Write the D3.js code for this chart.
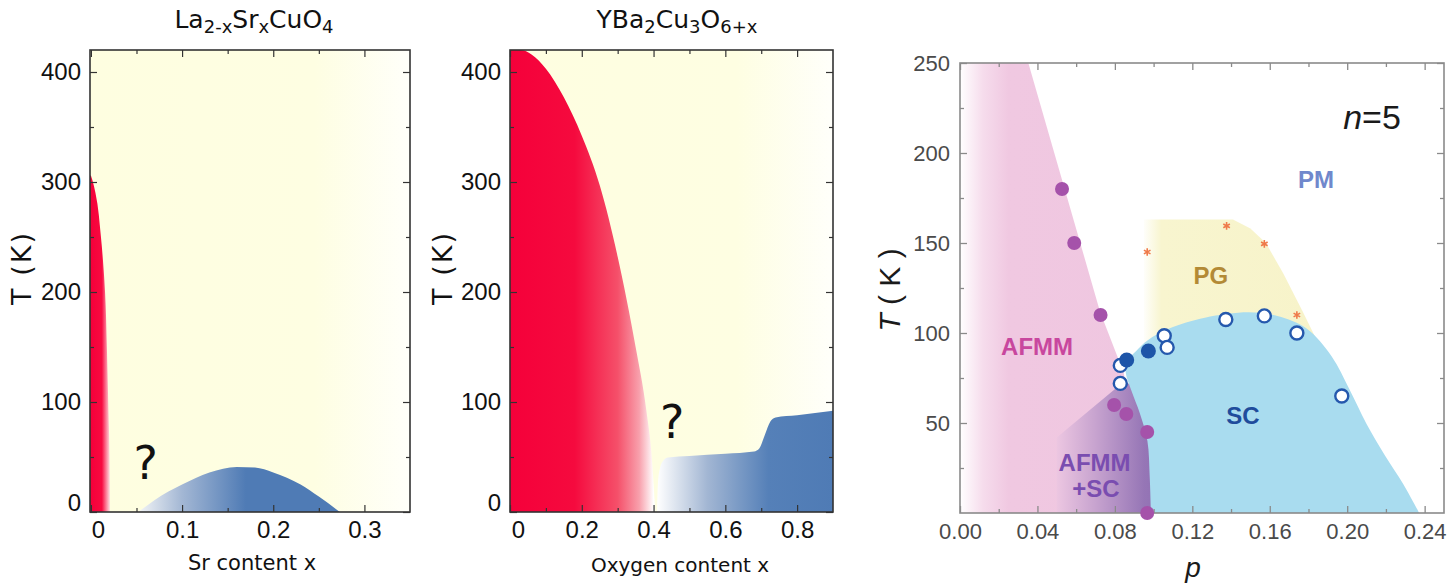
<!DOCTYPE html>
<html>
<head>
<meta charset="utf-8">
<title>Cuprate phase diagrams</title>
<style>
  body { margin: 0; background: #fff; }
  svg text { font-family: "Liberation Sans", Arial, sans-serif; }
</style>
</head>
<body>
<script src="https://d3js.org/d3.v7.min.js"></script>
<script>
// ---- La2-xSrxCuO4 : [x, T(K)]
const lscoAfm = [[0.021,0],[0.0205,50],[0.019,100],[0.0175,150],[0.0155,200],[0.014,220],[0.011,250],[0.005,290],[0.0015,302],[0,306]];
const lscoSc = [[0.052,0],[0.07,11],[0.1,25],[0.13,36],[0.16,41],[0.18,40.5],[0.2,36],[0.23,25],[0.25,14],[0.273,0]];
const lscoXTicks = [0, 0.1, 0.2, 0.3];
const lscoXMinor = [0.05, 0.15, 0.25];

// ---- YBa2Cu3O6+x : [x, T(K)]
const ybcoAfm = [[0,420],[0.03,420],[0.06,416],[0.1,403],[0.15,377],[0.2,342],[0.25,297],[0.3,232],[0.35,150],[0.38,92],[0.395,50],[0.405,0]];
const ybcoSc = [[0.41,0],[0.412,25],[0.418,40],[0.428,47],[0.44,49.5],[0.5,51],[0.6,53],[0.68,55],[0.695,58],[0.71,70],[0.725,82],[0.74,86],[0.8,88],[0.9,92]];
const ybcoXTicks = [0, 0.2, 0.4, 0.6, 0.8];
const ybcoXMinor = [0.1, 0.3, 0.5, 0.7];

const tTicks = [0, 100, 200, 300, 400];
const tMinor = [50, 150, 250, 350];

// ---- n=5 multilayer : [p, T(K)]
const afmmEdge = [[0,0],[0,250],[0.0353,250],[0.0723,112],[0.0845,78],[0.1,0]];
const afmmScEdge = [[0.05,0],[0.05,42],[0.0835,72],[0.1,72],[0.1,0]];
const pgEdge = [[0.095,85],[0.095,163],[0.141,163],[0.150,158],[0.158,150],[0.167,133],[0.177,112],[0.187,90],[0.187,85]];
const scEdge = [[0.0986,0],[0.098,20],[0.0968,40],[0.093,55],[0.0885,68],[0.0856,78],[0.0862,84],[0.091,90],[0.097,96],[0.108,102.5],[0.1265,108.5],[0.149,111.5],[0.164,109.5],[0.179,102.5],[0.192,87],[0.201,69],[0.210,49.5],[0.2195,32],[0.229,16],[0.2372,0]];
const tnPts = [[0.0527,180],[0.059,150],[0.0726,110],[0.0796,60],[0.0859,55],[0.0967,45],[0.0967,0]];
const tcOpen = [[0.0828,82],[0.0828,72],[0.1055,98.5],[0.107,92],[0.1373,107.5],[0.1572,109.5],[0.174,100],[0.1972,65]];
const tcFilled = [[0.0861,85],[0.0973,90]];
const tStar = [[0.0967,145],[0.1377,159.5],[0.1572,149.5],[0.174,110]];
const pTicks = [0, 0.04, 0.08, 0.12, 0.16, 0.20, 0.24];
const pMinor = [0.02, 0.06, 0.10, 0.14, 0.18, 0.22];
const t3Ticks = [50, 100, 150, 200, 250];
const t3Minor = [25, 75, 125, 175, 225];
const phaseLabels = [
  {text: "PM", p: 0.1839, t: 185.6, color: "#7088cc"},
  {text: "PG", p: 0.1296, t: 132, color: "#b38a35"},
  {text: "AFMM", p: 0.0398, t: 92.8, color: "#c8479e"},
  {text: "SC", p: 0.1462, t: 54.4, color: "#1f4c9c"},
  {text: "AFMM", p: 0.0695, t: 28.3, color: "#7a4db0"},
  {text: "+SC", p: 0.0702, t: 13.9, color: "#7a4db0"}
];

const svg = d3.select("body").append("svg").attr("width", 1450).attr("height", 586);
const defs = svg.append("defs");

function hGrad(id, x, stops) {
  const a = stops[0][0], b = stops[stops.length - 1][0];
  const g = defs.append("linearGradient").attr("id", id)
    .attr("gradientUnits", "userSpaceOnUse")
    .attr("x1", x(a)).attr("x2", x(b)).attr("y1", 0).attr("y2", 0);
  stops.forEach(s => g.append("stop").attr("offset", (s[0] - a) / (b - a)).attr("stop-color", s[1]));
  return "url(#" + id + ")";
}

function clip(id, x, y) {
  defs.append("clipPath").attr("id", id).append("rect")
    .attr("x", x.range()[0]).attr("y", y.range()[1])
    .attr("width", x.range()[1] - x.range()[0]).attr("height", y.range()[0] - y.range()[1]);
  return svg.append("g").attr("clip-path", "url(#" + id + ")");
}

function axes(x, y, o) {
  const [xa, xb] = x.range(), [yb, ya] = y.range();
  const put = (axis, tr, vals, size, fmt) => {
    const a = svg.append("g").attr("transform", tr)
      .call(axis.tickValues(vals).tickSize(size).tickPadding(o.pad).tickFormat(fmt || (() => "")));
    a.select(".domain").remove();
    a.selectAll("line").attr("stroke", o.color).attr("stroke-width", o.tw);
    a.selectAll("text").attr("font-size", o.fs).attr("fill", o.tc)
      .attr("font-family", '"Liberation Sans", Arial, sans-serif');
    return a;
  };
  const bx = put(d3.axisBottom(x), `translate(0,${yb})`, o.xt, -o.major, o.xf);
  put(d3.axisBottom(x), `translate(0,${yb})`, o.xm, -o.minor);
  put(d3.axisTop(x), `translate(0,${ya})`, o.xt, -o.major);
  put(d3.axisTop(x), `translate(0,${ya})`, o.xm, -o.minor);
  const ly = put(d3.axisLeft(y), `translate(${xa},0)`, o.yt, -o.major, o.yf);
  put(d3.axisLeft(y), `translate(${xa},0)`, o.ym, -o.minor);
  put(d3.axisRight(y), `translate(${xb},0)`, o.yt, -o.major);
  put(d3.axisRight(y), `translate(${xb},0)`, o.ym, -o.minor);
  svg.append("rect").attr("x", xa).attr("y", ya).attr("width", xb - xa).attr("height", yb - ya)
    .attr("fill", "none").attr("stroke", o.color).attr("stroke-width", o.fw);
  return {bx, ly};
}

const fmtPlain = d => String(+d.toFixed(2));

function oldPanel(x, y, id) {
  const g = clip(id, x, y);
  const [d0, d1] = x.domain();
  g.append("rect").attr("x", x.range()[0]).attr("y", y.range()[1])
    .attr("width", x.range()[1] - x.range()[0]).attr("height", y.range()[0] - y.range()[1])
    .attr("fill", hGrad(id + "bg", x, [[d0, "#fefee0"], [d0 + (d1 - d0) * 0.7, "#fefee2"], [d1, "#fffffa"]]));
  return g;
}

// ================= Panel 1 : LSCO =================
const x1 = d3.scaleLinear().domain([-0.001, 0.35]).range([90, 410]);
const y1 = d3.scaleLinear().domain([0, 420]).range([512, 50]);
const g1 = oldPanel(x1, y1, "p1");
g1.append("path").datum(lscoAfm)
  .attr("d", d3.area().curve(d3.curveMonotoneY).y(d => y1(d[1])).x0(x1(-0.01)).x1(d => x1(d[0])))
  .attr("fill", hGrad("red1", x1, [[0, "#f5003a"], [0.012, "#f80a40"], [0.0215, "#fff2ee"]]));
g1.append("path").datum(lscoSc)
  .attr("d", d3.area().curve(d3.curveMonotoneX).x(d => x1(d[0])).y0(y1(0)).y1(d => y1(d[1])))
  .attr("fill", hGrad("blue1", x1, [[0.052, "#f2f4f6"], [0.1, "#a3b7d4"], [0.17, "#4f7bb5"], [0.3, "#4f7bb5"]]));
svg.append("text").attr("x", x1(0.06)).attr("y", y1(45.5)).attr("dy", "0.36em")
  .attr("text-anchor", "middle").attr("font-size", 46).attr("fill", "#111")
  .style("font-family", '"DejaVu Sans", sans-serif').text("?");

const a1 = axes(x1, y1, {xt: lscoXTicks, xm: lscoXMinor, yt: tTicks, ym: tMinor, xf: fmtPlain, yf: fmtPlain,
  major: 7, minor: 4, pad: 9, color: "#333", tw: 1.2, fw: 1.6, fs: 24, tc: "#111"});
a1.bx.selectAll("text").filter(d => d === 0).attr("dx", 7);
a1.ly.selectAll("text").filter(d => d === 0).attr("dy", "-0.05em");

// ================= Panel 2 : YBCO =================
const x2 = d3.scaleLinear().domain([0, 0.9]).range([510, 833]);
const y2 = d3.scaleLinear().domain([0, 420]).range([512, 50]);
const g2 = oldPanel(x2, y2, "p2");
g2.append("path").datum(ybcoAfm)
  .attr("d", d3.area().curve(d3.curveMonotoneX).x(d => x2(d[0])).y0(y2(-5)).y1(d => y2(d[1])))
  .attr("fill", hGrad("red2", x2, [[0, "#f5003a"], [0.18, "#f50a3e"], [0.3, "#f5506a"], [0.36, "#f8a0ac"], [0.4, "#ffffff"]]));
g2.append("path").datum(ybcoSc)
  .attr("d", d3.area().curve(d3.curveMonotoneX).x(d => x2(d[0])).y0(y2(-5)).y1(d => y2(d[1])))
  .attr("fill", hGrad("blue2", x2, [[0.41, "#ffffff"], [0.55, "#a2b6d3"], [0.72, "#5580b8"], [0.9, "#4f7bb5"]]));
svg.append("text").attr("x", x2(0.452)).attr("y", y2(82)).attr("dy", "0.36em")
  .attr("text-anchor", "middle").attr("font-size", 46).attr("fill", "#111")
  .style("font-family", '"DejaVu Sans", sans-serif').text("?");

const a2 = axes(x2, y2, {xt: ybcoXTicks, xm: ybcoXMinor, yt: tTicks, ym: tMinor, xf: fmtPlain, yf: fmtPlain,
  major: 7, minor: 4, pad: 9, color: "#333", tw: 1.2, fw: 1.6, fs: 24, tc: "#111"});
a2.bx.selectAll("text").filter(d => d === 0).attr("dx", 8);
a2.ly.selectAll("text").filter(d => d === 0).attr("dy", "-0.05em");

// titles and axis labels for panels 1, 2
function formula(x, parts) {
  const t = svg.append("text").attr("x", x).attr("y", 33).attr("text-anchor", "middle")
    .attr("font-size", 25).attr("fill", "#111").style("font-family", '"DejaVu Sans", sans-serif');
  parts.forEach(p => {
    if (p[1]) t.append("tspan").attr("font-size", "0.72em").attr("dy", "0.28em").text(p[0]);
    else t.append("tspan").attr("dy", t.selectAll("tspan").size() ? "-0.2em" : 0).text(p[0]);
  });
}
formula(254, [["La"], ["2-x", 1], ["Sr"], ["x", 1], ["CuO"], ["4", 1]]);
formula(677, [["YBa"], ["2", 1], ["Cu"], ["3", 1], ["O"], ["6+x", 1]]);

const sideLabel = (x, y, txt, fs) => svg.append("text").attr("transform", `translate(${x},${y}) rotate(-90)`)
  .attr("text-anchor", "middle").attr("dy", "0.35em").attr("font-size", fs).attr("fill", "#111")
  .attr("letter-spacing", 2).style("font-family", '"DejaVu Sans", sans-serif').text(txt);
sideLabel(22, 268, "T (K)", 27);
sideLabel(443, 268, "T (K)", 27);
svg.append("text").attr("x", 252).attr("y", 570).attr("text-anchor", "middle").attr("font-size", 21)
  .attr("fill", "#111").style("font-family", '"DejaVu Sans", sans-serif').text("Sr content x");
svg.append("text").attr("x", 680).attr("y", 572).attr("text-anchor", "middle").attr("font-size", 20)
  .attr("fill", "#111").style("font-family", '"DejaVu Sans", sans-serif').text("Oxygen content x");

// ================= Panel 3 : n=5 =================
const x3 = d3.scaleLinear().domain([0, 0.25]).range([960, 1444]);
const y3 = d3.scaleLinear().domain([0, 250]).range([513, 63]);
const g3 = clip("p3", x3, y3);
const poly = d3.line().x(d => x3(d[0])).y(d => y3(d[1]));
g3.append("path").attr("d", poly(afmmEdge) + "Z")
  .attr("fill", hGrad("pink", x3, [[0, "#ffffff"], [0.012, "#f6dcec"], [0.025, "#f0c8e1"], [0.1, "#efc6e0"]]));
g3.append("path").attr("d", poly(afmmScEdge) + "Z")
  .attr("fill", hGrad("purple", x3, [[0.05, "#ecc6e1"], [0.07, "#c7a3cf"], [0.095, "#9676b6"], [0.1, "#9272b4"]]));
g3.append("path").attr("d", poly(pgEdge) + "Z")
  .attr("fill", hGrad("pg", x3, [[0.094, "#ffffff"], [0.104, "#f8f5cf"], [0.19, "#f7f3c9"]]));
g3.append("path").attr("d", d3.line().curve(d3.curveCatmullRom).x(d => x3(d[0])).y(d => y3(d[1]))(scEdge) + "Z")
  .attr("fill", "#a9dcef");

axes(x3, y3, {xt: pTicks, xm: pMinor, yt: t3Ticks, ym: t3Minor, xf: d3.format(".2f"), yf: d3.format("d"),
  major: 7, minor: 4, pad: 10, color: "#8a8a8a", tw: 1.3, fw: 1.6, fs: 22, tc: "#4a4a4a"});

phaseLabels.forEach(l => svg.append("text").attr("x", x3(l.p)).attr("y", y3(l.t)).attr("dy", "0.36em")
  .attr("text-anchor", "middle").attr("font-size", 24).attr("font-weight", "bold")
  .attr("fill", l.color).text(l.text));

svg.selectAll(".tn").data(tnPts).join("circle").attr("class", "tn")
  .attr("cx", d => x3(d[0])).attr("cy", d => y3(d[1])).attr("r", 7).attr("fill", "#a552aa");
svg.selectAll(".tco").data(tcOpen).join("circle").attr("class", "tco")
  .attr("cx", d => x3(d[0])).attr("cy", d => y3(d[1])).attr("r", 6.5)
  .attr("fill", "#fff").attr("stroke", "#2558ad").attr("stroke-width", 2.4);
svg.selectAll(".tcf").data(tcFilled).join("circle").attr("class", "tcf")
  .attr("cx", d => x3(d[0])).attr("cy", d => y3(d[1])).attr("r", 7.5).attr("fill", "#1d55a8");
svg.selectAll(".ts").data(tStar).join("path").attr("class", "ts")
  .attr("transform", d => `translate(${x3(d[0])},${y3(d[1])})`)
  .attr("d", d3.symbol(d3.symbolAsterisk, 40)).attr("fill", "none")
  .attr("stroke", "#ef7a4a").attr("stroke-width", 1.6);

const n5 = svg.append("text").attr("x", x3(0.2128)).attr("y", y3(220)).attr("dy", "0.36em")
  .attr("text-anchor", "middle").attr("font-size", 34).attr("fill", "#1a1a1a");
n5.append("tspan").attr("font-style", "italic").text("n");
n5.append("tspan").text("=5");

const tk = svg.append("text").attr("transform", "translate(889,290) rotate(-90)")
  .attr("text-anchor", "middle").attr("dy", "0.35em").attr("font-size", 30).attr("fill", "#1a1a1a");
tk.append("tspan").attr("font-style", "italic").text("T");
tk.append("tspan").text(" ( K )");
svg.append("text").attr("x", 1193).attr("y", 577).attr("text-anchor", "middle").attr("font-size", 28)
  .attr("font-style", "italic").attr("fill", "#1a1a1a").text("p");
</script>
</body>
</html>
